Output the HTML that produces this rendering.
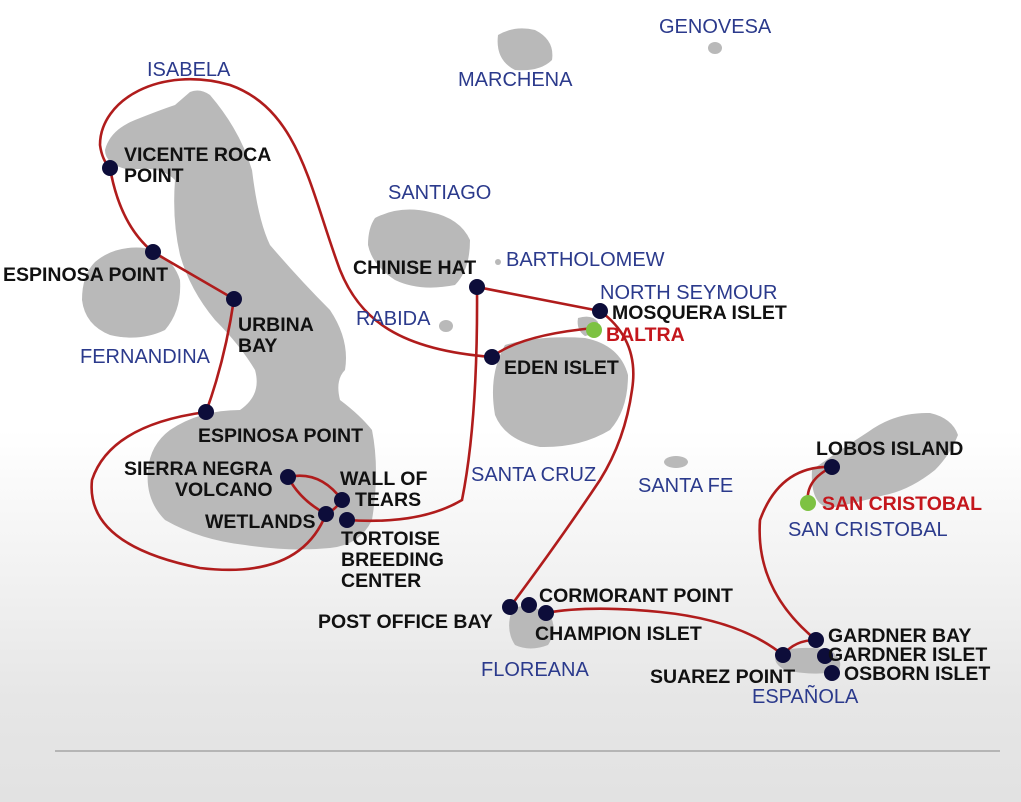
<!DOCTYPE html>
<html><head><meta charset="utf-8"><style>
html,body{margin:0;padding:0;width:1021px;height:802px;overflow:hidden}
body{background:linear-gradient(#fff 0,#fff 430px,#e6e6e6 700px,#e2e2e2 802px)}
svg{position:absolute;left:0;top:0}
.b{font-family:"Liberation Sans",sans-serif;font-weight:bold;font-size:19.5px;fill:#111}
.n{font-family:"Liberation Sans",sans-serif;font-size:20px;fill:#2b3a8c}
.r{font-family:"Liberation Sans",sans-serif;font-weight:bold;font-size:19.5px;fill:#c4161c}
</style></head><body>
<svg width="1021" height="802" viewBox="0 0 1021 802">
<g fill="#b9b9b9">
<path d="M190 92 Q200 88 210 95 Q240 130 252 170 Q258 220 270 245 Q300 280 330 310 Q350 340 345 370 Q335 380 340 400 Q360 415 372 430 Q380 470 372 520 Q360 545 330 548 Q290 552 245 545 Q200 540 165 520 Q145 500 148 470 Q150 445 170 430 Q200 410 240 410 Q262 395 255 370 Q240 345 215 320 Q190 290 180 255 Q172 220 175 180 Q160 165 130 170 Q105 165 105 150 Q110 130 135 120 Q160 110 175 105 Z"/>
<path d="M95 262 Q115 245 145 248 Q172 255 180 280 Q182 310 165 330 Q140 342 110 335 Q85 325 82 300 Q82 275 95 262 Z"/>
<path d="M375 218 Q400 205 430 212 Q460 218 470 240 Q470 270 455 285 Q420 292 395 280 Q372 265 368 245 Q368 228 375 218 Z"/>
<path d="M505 345 Q540 335 585 338 Q620 345 628 375 Q628 410 610 430 Q580 448 540 447 Q505 440 495 415 Q488 375 505 345 Z"/>
<path d="M578 318 Q592 314 598 322 Q596 334 585 336 Q576 330 578 318 Z"/>
<path d="M812 470 Q840 450 868 432 Q895 412 930 413 Q952 418 958 435 Q950 455 935 470 Q910 490 885 495 Q855 503 830 508 Q810 505 812 470 Z"/>
<path d="M512 610 Q525 600 550 615 Q558 630 548 645 Q530 652 515 645 Q505 630 512 610 Z"/>
<path d="M778 652 Q800 645 830 650 Q845 660 838 672 Q810 676 785 670 Q770 662 778 652 Z"/>
<path d="M498 35 Q515 25 535 30 Q555 40 552 60 Q540 72 515 70 Q495 60 498 35 Z"/>
<ellipse cx="715" cy="48" rx="7" ry="6"/>
<ellipse cx="676" cy="462" rx="12" ry="6"/>
<ellipse cx="446" cy="326" rx="7" ry="6"/>
<circle cx="498" cy="262" r="3"/>
</g>
<line x1="55" y1="751" x2="1000" y2="751" stroke="#999" stroke-width="1.2"/>
<g fill="none" stroke="#b01c1c" stroke-width="2.6">
<path d="M492 357 C400 350 360 320 340 270 C310 190 300 110 230 85 C160 65 100 100 100 145 Q102 160 110 168"/>
<path d="M110 168 Q120 225 153 252 L234 299 Q225 360 206 412 Q110 425 92 480 Q85 545 200 568 Q300 580 326 514"/>
<path d="M326 514 Q300 500 288 477 Q320 470 342 500 Q335 510 326 514"/>
<path d="M347 520 Q420 525 462 500 Q478 420 477 287 L600 311"/>
<path d="M492 357 Q520 335 594 328"/>
<path d="M600 311 Q640 340 632 390 Q625 440 600 480 Q560 540 510 607"/>
<path d="M546 613 Q590 605 660 612 Q740 620 783 655 Q795 640 816 640"/>
<path d="M832 467 Q780 465 760 520 Q755 590 816 640"/>
<path d="M832 467 Q805 480 808 503"/>
</g>
<g fill="#0d0d3a">
<circle cx="110" cy="168" r="8"/><circle cx="153" cy="252" r="8"/><circle cx="234" cy="299" r="8"/>
<circle cx="206" cy="412" r="8"/><circle cx="288" cy="477" r="8"/><circle cx="342" cy="500" r="8"/>
<circle cx="326" cy="514" r="8"/><circle cx="347" cy="520" r="8"/><circle cx="477" cy="287" r="8"/>
<circle cx="492" cy="357" r="8"/><circle cx="600" cy="311" r="8"/><circle cx="510" cy="607" r="8"/>
<circle cx="529" cy="605" r="8"/><circle cx="546" cy="613" r="8"/><circle cx="783" cy="655" r="8"/>
<circle cx="816" cy="640" r="8"/><circle cx="825" cy="656" r="8"/><circle cx="832" cy="673" r="8"/>
<circle cx="832" cy="467" r="8"/>
</g>
<circle cx="594" cy="330" r="8" fill="#7dc242"/><circle cx="808" cy="503" r="8" fill="#7dc242"/>
<text class="n" x="147" y="76">ISABELA</text>
<text class="n" x="458" y="86">MARCHENA</text>
<text class="n" x="659" y="33">GENOVESA</text>
<text class="n" x="388" y="199">SANTIAGO</text>
<text class="n" x="506" y="266">BARTHOLOMEW</text>
<text class="n" x="600" y="299">NORTH SEYMOUR</text>
<text class="n" x="356" y="325">RABIDA</text>
<text class="n" x="80" y="363">FERNANDINA</text>
<text class="n" x="471" y="481">SANTA CRUZ</text>
<text class="n" x="638" y="492">SANTA FE</text>
<text class="n" x="788" y="536">SAN CRISTOBAL</text>
<text class="n" x="481" y="676">FLOREANA</text>
<text class="n" x="752" y="703">ESPAÑOLA</text>
<text class="b" x="124" y="161">VICENTE ROCA</text>
<text class="b" x="124" y="182">POINT</text>
<text class="b" x="3" y="281">ESPINOSA POINT</text>
<text class="b" x="238" y="331">URBINA</text>
<text class="b" x="238" y="352">BAY</text>
<text class="b" x="198" y="442">ESPINOSA POINT</text>
<text class="b" x="124" y="475">SIERRA NEGRA</text>
<text class="b" x="175" y="496">VOLCANO</text>
<text class="b" x="340" y="485">WALL OF</text>
<text class="b" x="355" y="506">TEARS</text>
<text class="b" x="205" y="528">WETLANDS</text>
<text class="b" x="341" y="545">TORTOISE</text>
<text class="b" x="341" y="566">BREEDING</text>
<text class="b" x="341" y="587">CENTER</text>
<text class="b" x="353" y="274">CHINISE HAT</text>
<text class="b" x="612" y="319">MOSQUERA ISLET</text>
<text class="r" x="606" y="341">BALTRA</text>
<text class="b" x="504" y="374">EDEN ISLET</text>
<text class="b" x="816" y="455">LOBOS ISLAND</text>
<text class="r" x="822" y="510">SAN CRISTOBAL</text>
<text class="b" x="539" y="602">CORMORANT POINT</text>
<text class="b" x="318" y="628">POST OFFICE BAY</text>
<text class="b" x="535" y="640">CHAMPION ISLET</text>
<text class="b" x="828" y="642">GARDNER BAY</text>
<text class="b" x="828" y="661">GARDNER ISLET</text>
<text class="b" x="844" y="680">OSBORN ISLET</text>
<text class="b" x="650" y="683">SUAREZ POINT</text>
</svg>
</body></html>
